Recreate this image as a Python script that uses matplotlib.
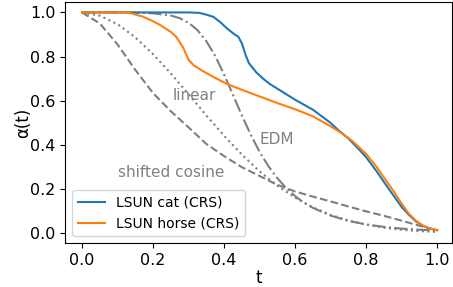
import matplotlib
matplotlib.use("Agg")
import matplotlib.pyplot as plt

# Reference schedules
t_ref = [0.0, 0.05, 0.1, 0.15, 0.2, 0.25, 0.3, 0.35, 0.4, 0.45, 0.5,
         0.55, 0.6, 0.65, 0.7, 0.75, 0.8, 0.85, 0.9, 0.95, 1.0]
shifted_cosine = [1.0, 0.95, 0.855, 0.74, 0.635, 0.553, 0.48, 0.405, 0.35, 0.30, 0.26,
                  0.22, 0.19, 0.167, 0.145, 0.122, 0.10, 0.08, 0.058, 0.035, 0.015]
linear = [1.0, 0.985, 0.947, 0.887, 0.811, 0.724, 0.630, 0.534, 0.442, 0.357, 0.281,
          0.216, 0.162, 0.118, 0.084, 0.059, 0.040, 0.026, 0.017, 0.011, 0.007]

t_edm = [0.0, 0.05, 0.1, 0.15, 0.2, 0.25, 0.275, 0.3, 0.325, 0.35, 0.375, 0.4, 0.425,
         0.45, 0.475, 0.5, 0.525, 0.55, 0.575, 0.6, 0.625, 0.65, 0.7, 0.75, 0.8,
         0.85, 0.9, 0.95, 1.0]
edm = [1.0, 1.0, 1.0, 0.999, 0.996, 0.986, 0.974, 0.953, 0.920, 0.870, 0.803, 0.719, 0.627,
       0.534, 0.447, 0.369, 0.304, 0.250, 0.205, 0.169, 0.139, 0.116, 0.081, 0.057, 0.041,
       0.030, 0.022, 0.017, 0.013]

# Learned schedules
t_cat = [0.0, 0.30, 0.33, 0.35, 0.37, 0.39, 0.41, 0.43, 0.44, 0.45, 0.46, 0.47, 0.49,
         0.51, 0.53, 0.56, 0.6, 0.65, 0.7, 0.72, 0.75, 0.78, 0.8, 0.83, 0.86, 0.88,
         0.9, 0.92, 0.94, 0.96, 0.98, 1.0]
cat = [1.0, 1.0, 0.998, 0.99, 0.98, 0.955, 0.925, 0.90, 0.89, 0.86, 0.81, 0.77, 0.73,
       0.70, 0.675, 0.645, 0.605, 0.56, 0.50, 0.47, 0.43, 0.38, 0.345, 0.28, 0.21, 0.165,
       0.12, 0.085, 0.055, 0.035, 0.022, 0.015]

t_horse = [0.0, 0.13, 0.155, 0.17, 0.2, 0.22, 0.25, 0.265, 0.275, 0.285, 0.3, 0.315,
           0.34, 0.37, 0.41, 0.45, 0.5, 0.55, 0.6, 0.65, 0.7, 0.73, 0.76, 0.8, 0.83,
           0.86, 0.88, 0.9, 0.92, 0.94, 0.96, 0.98, 1.0]
horse = [1.0, 1.0, 0.988, 0.982, 0.96, 0.943, 0.912, 0.89, 0.865, 0.84, 0.785, 0.76,
         0.735, 0.708, 0.675, 0.65, 0.62, 0.59, 0.562, 0.53, 0.485, 0.455, 0.42, 0.36,
         0.30, 0.23, 0.185, 0.135, 0.09, 0.058, 0.035, 0.022, 0.015]

fig = plt.figure(figsize=(4.53, 2.87), dpi=100)
ax = fig.add_axes([0.1435, 0.153, 0.8545, 0.8395])

gray = "#7f7f7f"
ax.plot(t_ref, shifted_cosine, color=gray, ls="--", lw=1.5)
ax.plot(t_ref, linear, color=gray, ls=":", lw=1.5)
ax.plot(t_edm, edm, color=gray, ls="-.", lw=1.5)
ax.plot(t_cat, cat, color="tab:blue", lw=1.5, label="LSUN cat (CRS)")
ax.plot(t_horse, horse, color="tab:orange", lw=1.5, label="LSUN horse (CRS)")

ax.text(0.315, 0.626, "linear", color="gray", fontsize=11, ha="center", va="center")
ax.text(0.549, 0.426, "EDM", color="gray", fontsize=11, ha="center", va="center")
ax.text(0.252, 0.276, "shifted cosine", color="gray", fontsize=11, ha="center", va="center")

ax.set_xlim(-0.048, 1.042)
ax.set_ylim(-0.0434, 1.0465)
ax.set_xticks([0.0, 0.2, 0.4, 0.6, 0.8, 1.0])
ax.set_yticks([0.0, 0.2, 0.4, 0.6, 0.8, 1.0])
ax.tick_params(labelsize=11.5)
ax.set_xlabel("t", fontsize=12, labelpad=0.5)
ax.set_ylabel("α(t)", fontsize=12, labelpad=-1.5)
ax.legend(loc="lower left", fontsize=10)

fig.savefig("out.png", dpi=100)
